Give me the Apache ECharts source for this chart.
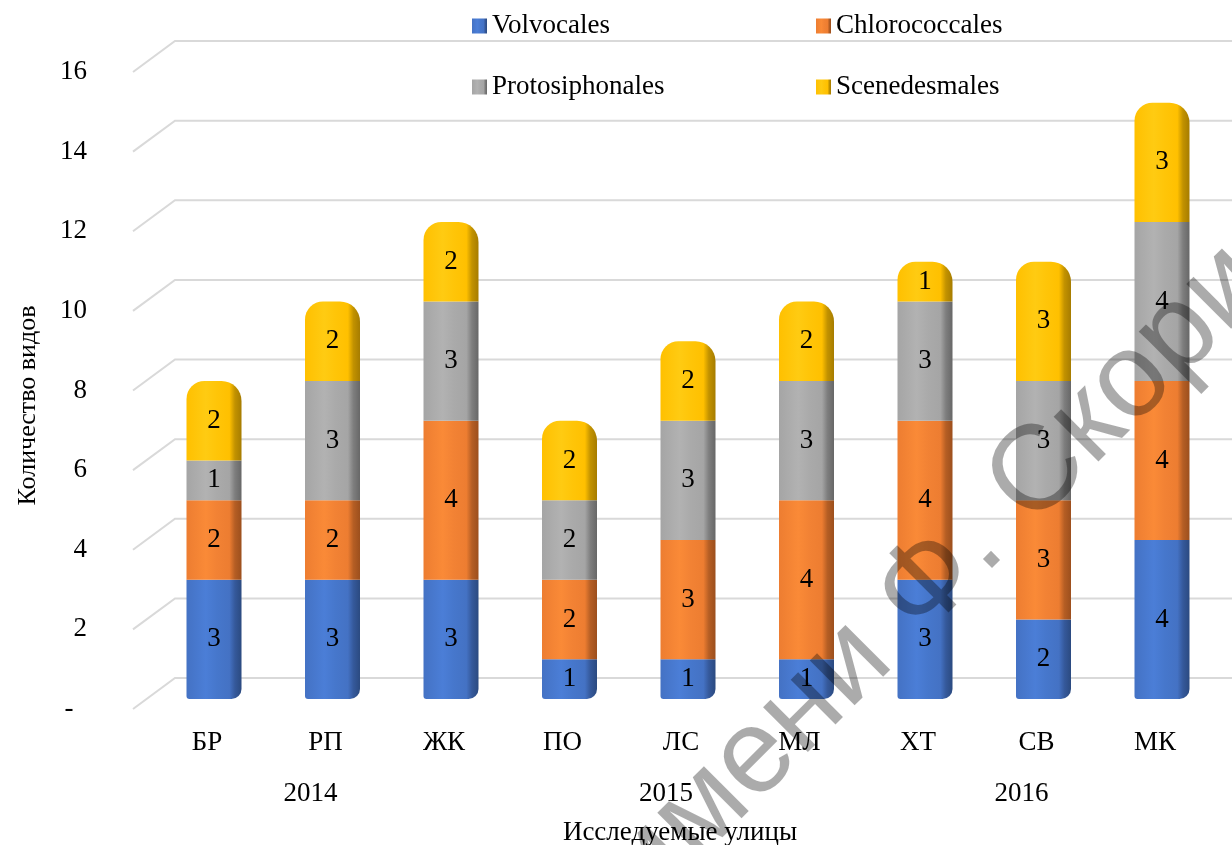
<!DOCTYPE html>
<html>
<head>
<meta charset="utf-8">
<title>Количество видов</title>
<script src="https://cdn.jsdelivr.net/npm/echarts@6/dist/echarts.min.js"></script>
<style>
    html, body { margin: 0; padding: 0; background: #fff; }
    #chart { width: 1232px; height: 845px; }
</style>
</head>
<body>
<div id="chart"></div>
<script>
const streets = ['БР', 'РП', 'ЖК', 'ПО', 'ЛС', 'МЛ', 'ХТ', 'СВ', 'МК'];
const years = ['2014', '2015', '2016'];
const volvocales = [3, 3, 3, 1, 1, 1, 3, 2, 4];
const chlorococcales = [2, 2, 4, 2, 3, 4, 4, 3, 4];
const protosiphonales = [1, 3, 3, 2, 3, 3, 3, 3, 4];
const scenedesmales = [2, 2, 2, 2, 2, 2, 1, 3, 3];
const yTicks = [0, 2, 4, 6, 8, 10, 12, 14, 16];

const serif = 'Liberation Serif';

// side-lit cylinder look
function tube(light, base, mid, dark, darker) {
    return {
        type: 'linear', x: 0, y: 0, x2: 1, y2: 0,
        colorStops: [
            { offset: 0, color: base },
            { offset: 0.35, color: light },
            { offset: 0.55, color: mid },
            { offset: 0.78, color: base },
            { offset: 0.88, color: dark },
            { offset: 1, color: darker }
        ]
    };
}
const colBlue = tube('#4b7ed7', '#4472c4', '#4677cc', '#35599b', '#2b4a80');
const colOrange = tube('#fa8a37', '#ed7d31', '#f28234', '#b55e24', '#9c4f1d');
const colGray = tube('#b2b2b2', '#a5a5a5', '#aaaaaa', '#7e7e7e', '#676767');
const colYellow = tube('#ffcb12', '#ffc000', '#ffc508', '#c29200', '#a67c00');

function segLabel() {
    return {
        show: true,
        position: 'inside',
        color: '#000',
        fontFamily: serif,
        fontSize: 27
    };
}

var chart = echarts.init(document.getElementById('chart'));

var option = {
    animation: false,
    backgroundColor: '#fff',
    grid: [
        // front wall: labels + grid lines
        { left: 133, right: 0, top: 72, height: 637, outerBoundsMode: 'none' },
        // bars
        { left: 154.75, right: 10.75, top: 63, height: 636, outerBoundsMode: 'none' }
    ],
    legend: [
        {
            left: 467, top: 6, orient: 'vertical',
            itemWidth: 15, itemHeight: 15, itemGap: 31,
            icon: 'rect',
            textStyle: { fontFamily: serif, fontSize: 27, color: '#000', lineHeight: 30 },
            data: ['Volvocales', 'Protosiphonales']
        },
        {
            left: 811, top: 6, orient: 'vertical',
            itemWidth: 15, itemHeight: 15, itemGap: 31,
            icon: 'rect',
            textStyle: { fontFamily: serif, fontSize: 27, color: '#000', lineHeight: 30 },
            data: ['Chlorococcales', 'Scenedesmales']
        }
    ],
    xAxis: [
        { gridIndex: 0, type: 'value', min: 0, max: 1, show: false },
        {
            gridIndex: 1, type: 'category', data: streets,
            axisLine: { show: false }, axisTick: { show: false },
            axisLabel: { margin: 30, fontFamily: serif, fontSize: 27, color: '#000', padding: [0, 14, 0, 0] },
            name: 'Исследуемые улицы', nameLocation: 'middle', nameGap: 120,
            nameTextStyle: { fontFamily: serif, fontSize: 27, color: '#000', padding: [0, 16, 0, 0] }
        },
        {
            gridIndex: 1, type: 'category', data: years, position: 'bottom', offset: 51,
            axisLine: { show: false }, axisTick: { show: false },
            axisLabel: { margin: 30, fontFamily: serif, fontSize: 27, color: '#000', padding: [0, 44, 0, 0] }
        }
    ],
    yAxis: [
        {
            gridIndex: 0, type: 'value', min: 0, max: 16, interval: 2,
            axisLine: { show: false }, axisTick: { show: false }, splitLine: { show: false },
            axisLabel: {
                margin: 46, fontFamily: serif, fontSize: 27, color: '#000', padding: [6, 0, 0, 0],
                formatter: function (v) { return v === 0 ? '-\u00a0\u00a0' : String(v); }
            },
            name: 'Количество видов', nameLocation: 'middle', nameGap: 92, nameRotate: 90,
            nameTextStyle: { fontFamily: serif, fontSize: 26, color: '#000', padding: [0, 30, 0, 0] }
        },
        { gridIndex: 1, type: 'value', min: 0, max: 16, show: false }
    ],
    graphic: [
        {
            type: 'text',
            x: 668, y: 930,
            rotation: Math.PI / 4,
            z: 100,
            silent: true,
            style: {
                text: 'имени Ф. Скорины',
                font: '120px "Liberation Sans"',
                fill: 'rgba(0,0,0,0.33)',
                textAlign: 'left',
                textVerticalAlign: 'bottom'
            }
        }
    ],
    series: [
        {
            type: 'custom',
            xAxisIndex: 0, yAxisIndex: 0,
            z: 1, silent: true,
            data: yTicks.map(function (v) { return [0, v]; }),
            renderItem: function (params, api) {
                var p = api.coord([0, api.value(1)]);
                return {
                    type: 'polyline',
                    shape: { points: [[p[0], p[1]], [p[0] + 42, p[1] - 31], [1232, p[1] - 31]] },
                    style: { stroke: '#d9d9d9', lineWidth: 2, fill: null }
                };
            }
        },
        {
            name: 'Volvocales', type: 'bar', stack: 'all', xAxisIndex: 1, yAxisIndex: 1,
            barWidth: 55, z: 3, data: volvocales,
            itemStyle: { color: colBlue, borderRadius: [0, 0, 10, 3] },
            label: segLabel()
        },
        {
            name: 'Chlorococcales', type: 'bar', stack: 'all', xAxisIndex: 1, yAxisIndex: 1,
            barWidth: 55, z: 3, data: chlorococcales,
            itemStyle: { color: colOrange },
            label: segLabel()
        },
        {
            name: 'Protosiphonales', type: 'bar', stack: 'all', xAxisIndex: 1, yAxisIndex: 1,
            barWidth: 55, z: 3, data: protosiphonales,
            itemStyle: { color: colGray },
            label: segLabel()
        },
        {
            name: 'Scenedesmales', type: 'bar', stack: 'all', xAxisIndex: 1, yAxisIndex: 1,
            barWidth: 55, z: 3, data: scenedesmales,
            itemStyle: { color: colYellow, borderRadius: [18, 20, 0, 0] },
            label: segLabel()
        }
    ]
};

chart.setOption(option);
</script>
</body>
</html>
